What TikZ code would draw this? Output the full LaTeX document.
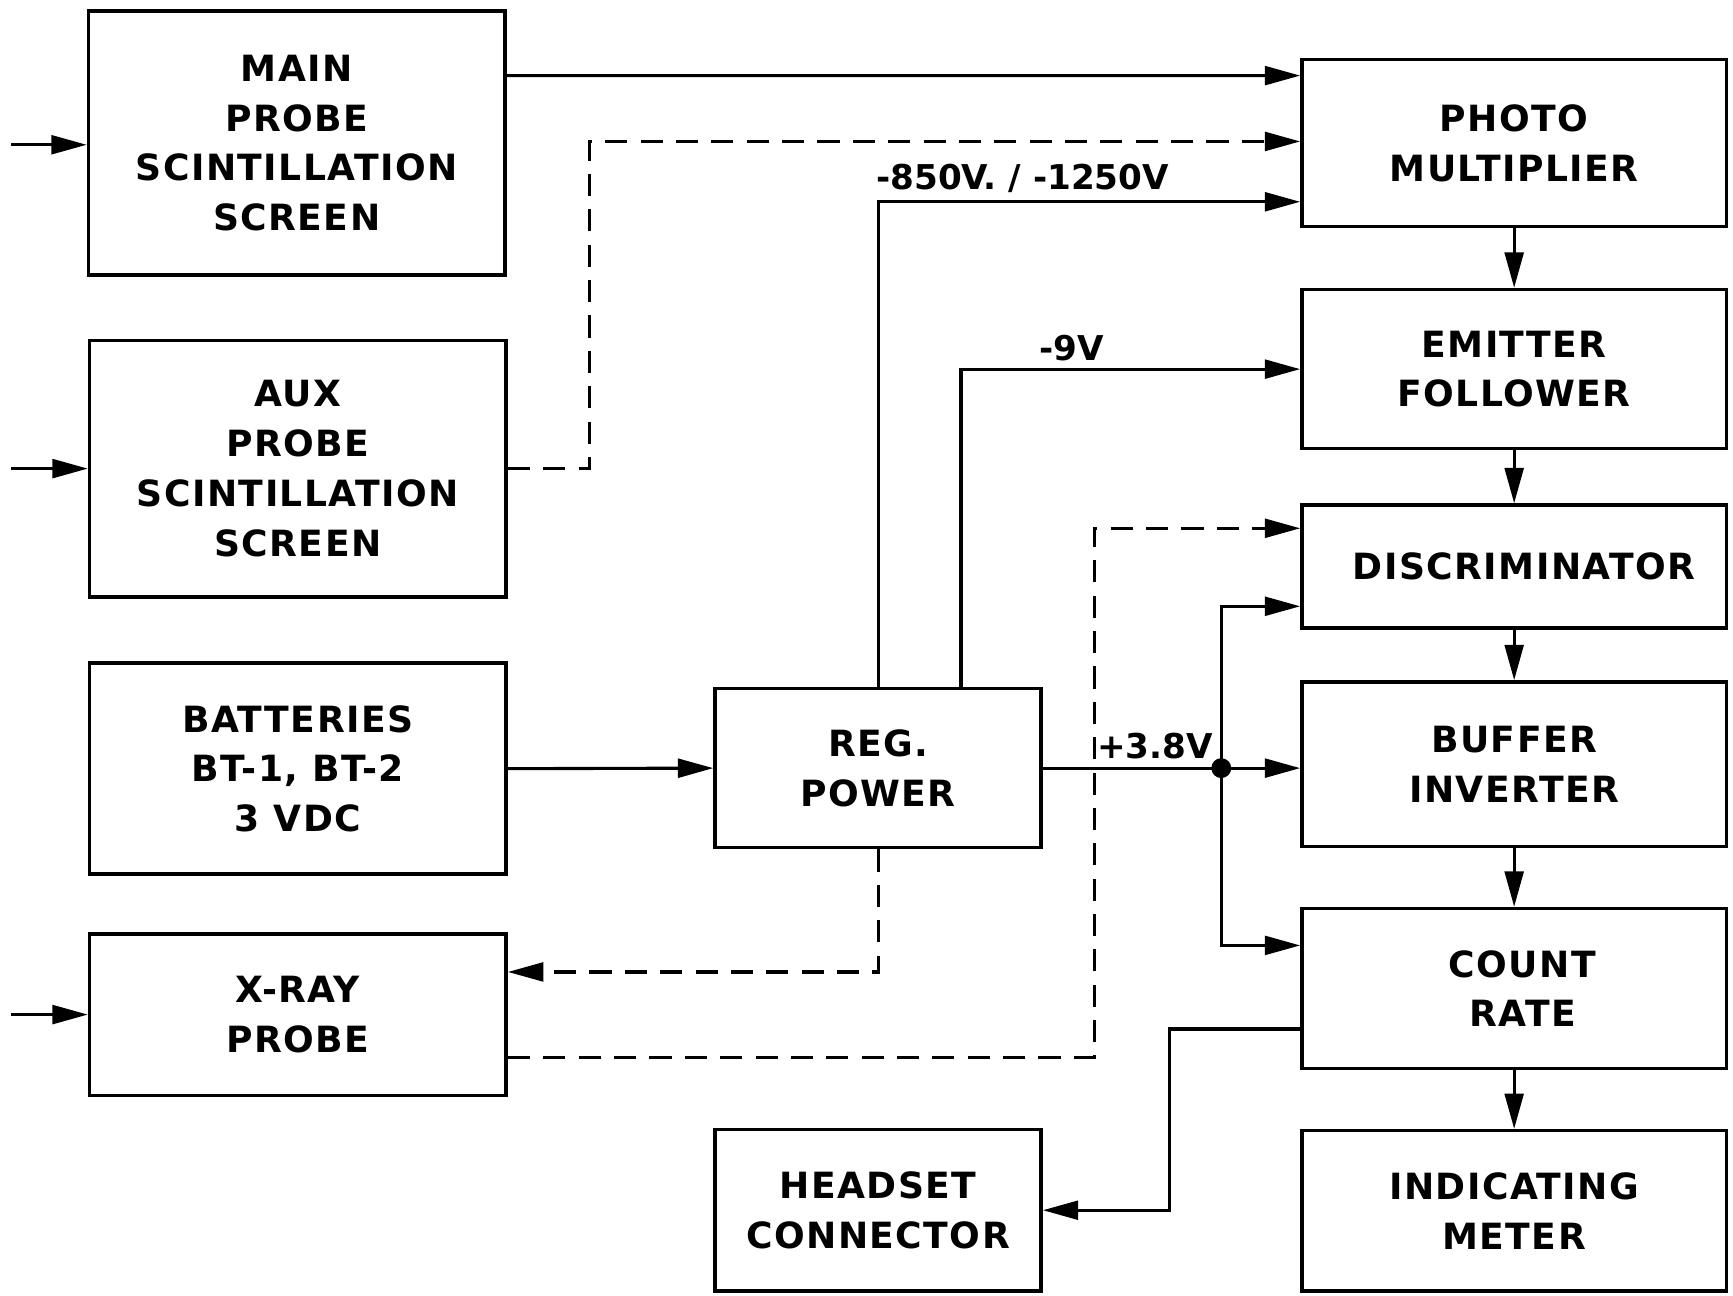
\documentclass[tikz,border=0pt]{standalone}
\usepackage{fontspec}
\setmainfont{DejaVu Sans}
\newfontfamily\lettering[LetterSpace=4]{DejaVu Sans}
\usetikzlibrary{calc}
\usetikzlibrary{arrows.meta}
\tikzset{
	blk/.style={draw, line width=0.9pt, inner sep=0pt, align=center,
		font=\lettering\bfseries\fontsize{9.3}{12.8}\selectfont},
	arr/.style={line width=0.8pt, -{Triangle[length=3.2mm,width=1.7mm]}},
	dsh/.style={dash pattern=on 2mm off 1.2mm},
	lbl/.style={inner sep=0pt, font=\bfseries\fontsize{8.8}{10}\selectfont},
}
\begin{document}
\begin{tikzpicture}[x=0.1mm,y=-0.1mm]
		\useasboundingbox (0,0) rectangle (1568,1172);
		% left column
		\node[blk,minimum width=3.77cm,minimum height=2.39cm] (main) at (268.5,129.5) {MAIN\\PROBE\\SCINTILLATION\\SCREEN};
		\node[blk,minimum width=3.77cm,minimum height=2.32cm] (aux) at (269.5,424) {AUX\\PROBE\\SCINTILLATION\\SCREEN};
		\node[blk,minimum width=3.77cm,minimum height=1.91cm] (batt) at (269.5,695.5) {BATTERIES\\BT-1, BT-2\\3 VDC};
		\node[blk,minimum width=3.77cm,minimum height=1.46cm] (xray) at (269.5,918) {X-RAY\\PROBE};
		% middle
		\node[blk,minimum width=2.95cm,minimum height=1.44cm] (reg) at (794.5,695) {REG.\\POWER};
		\node[blk,minimum width=2.95cm,minimum height=1.46cm] (headset) at (794.5,1095) {HEADSET\\CONNECTOR};
		% right column
		\node[blk,minimum width=3.84cm,minimum height=1.51cm] (photo) at (1370,129.5) {PHOTO\\MULTIPLIER};
		\node[blk,minimum width=3.84cm,minimum height=1.44cm] (emitter) at (1370,334) {EMITTER\\FOLLOWER};
		\node[blk,minimum width=3.84cm,minimum height=1.11cm] (disc) at (1370,512.5) {\hspace*{1.8mm}DISCRIMINATOR};
		\node[blk,minimum width=3.84cm,minimum height=1.49cm] (buffer) at (1370,691.5) {BUFFER\\INVERTER};
		\node[blk,minimum width=3.84cm,minimum height=1.45cm] (count) at (1370,894.5) {\hspace*{1.5mm}COUNT\\\hspace*{1.5mm}RATE};
		\node[blk,minimum width=3.84cm,minimum height=1.45cm] (meter) at (1370,1095.5) {INDICATING\\METER};
		% inputs
		\coordinate (in1) at (10,131);
		\coordinate (in2) at (10,424);
		\coordinate (in3) at (10,918);
		\draw[arr] (in1) -- (in1 -| main.west);
		\draw[arr] (in2) -- (aux.west);
		\draw[arr] (in3) -- (xray.west);
		% signal chain
		\draw[arr] ($(main.north east)+(0,60)$) -- ($(photo.north west)+(0,16)$);
		\foreach \a/\b in {photo/emitter,emitter/disc,disc/buffer,buffer/count,count/meter}
			\draw[arr] (\a) -- (\b);
		\coordinate (dA) at (533,128);
		\draw[arr,dsh] (aux.east) -| (dA) -- (dA -| photo.west);
		\coordinate (dX) at (990,478);
		\draw[arr,dsh] ($(xray.south east)+(0,-36)$) -| (dX) -- (dX -| disc.west);
		\draw[arr,dsh] (reg.south) |- ($(xray.north east)+(0,36)$);
		% supplies
		\draw[arr] (batt.east) -- (reg.west);
		\draw[arr] (reg.north) |- node[lbl,pos=.5,anchor=south west,xshift=-0.3mm,yshift=0.7mm] {-850V. / -1250V} ($(photo.south west)+(0,-24)$);
		\draw[arr] ($(reg.north)+(75,0)$) |- node[lbl,pos=.663,anchor=south,yshift=0.6mm] {-9V} (emitter.west);
		\coordinate (jn) at (reg.east -| 1105,0);
		\draw[arr] (reg.east) -- (reg.east -| buffer.west);
		\node[lbl,anchor=south east,xshift=-0.7mm,yshift=0.8mm] at (jn) {+3.8V};
		\fill (jn) circle (0.9mm);
		\draw[arr] (jn) |- ($(disc.south west)+(0,-21)$);
		\draw[arr] (jn) |- ($(count.north west)+(0,35)$);
		% headset
		\coordinate (hs) at (1058,931);
		\draw[arr] (hs -| count.west) -- (hs) |- (headset.east);
	\end{tikzpicture}
\end{document}
